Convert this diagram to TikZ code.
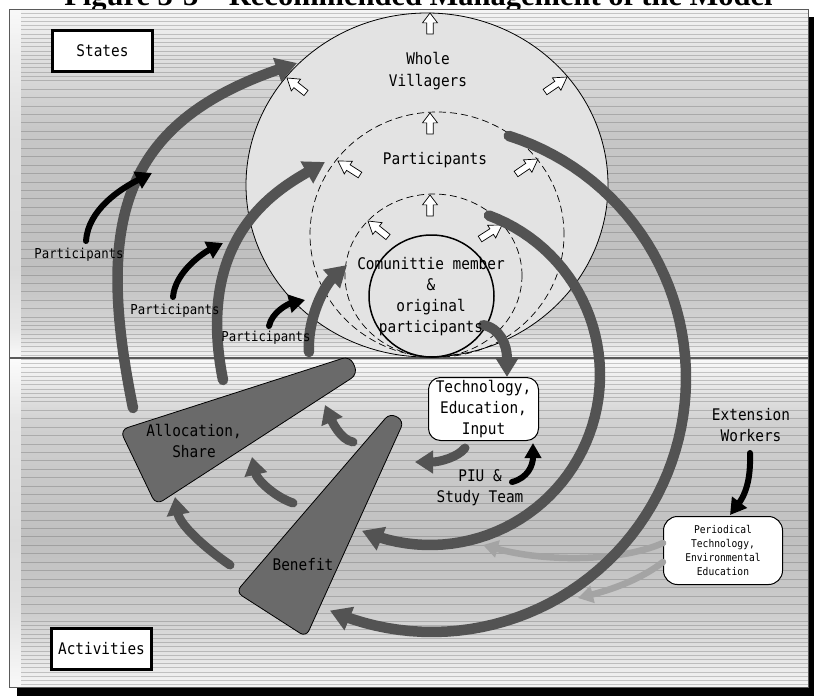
\documentclass[tikz,border=0pt]{standalone}
\usepackage{fontspec}
\setmainfont{Liberation Serif}
\newfontfamily\lblfont[FakeStretch=0.9]{DejaVu Sans Mono}
\usetikzlibrary{arrows.meta,calc}

\definecolor{flowgray}{HTML}{535353}
\definecolor{wedgegray}{HTML}{6A6A6A}
\definecolor{palegray}{HTML}{A4A4A4}
\definecolor{discgray}{HTML}{E3E3E3}
\definecolor{rulegray}{HTML}{5A5A5A}

\tikzset{
  lbl/.style={font=\lblfont\fontsize{16}{21}\selectfont, align=center, inner sep=0pt},
  smalllbl/.style={font=\lblfont\fontsize{13.7}{16}\selectfont, inner sep=0pt},
  tinylbl/.style={font=\lblfont\fontsize{10.7}{14}\selectfont, align=center},
  tagbox/.style={lbl, draw=black, line width=3pt, fill=white, minimum width=100pt, minimum height=41pt},
  roundbox/.style={lbl, draw=black, line width=1pt, fill=white, rounded corners=12pt, minimum width=110pt, minimum height=63pt},
  notebox/.style={tinylbl, draw=black, line width=1pt, fill=white, rounded corners=14pt, minimum width=119pt, minimum height=68pt, inner sep=0pt},
  bigflow/.style={draw=flowgray, line width=10.5pt, line cap=round, -{Triangle[length=21pt,width=24pt]}},
  smallflow/.style={draw=flowgray, line width=9pt, line cap=round, -{Triangle[length=18pt,width=22pt]}},
  inkflow/.style={draw=black, line width=6pt, line cap=round, -{Triangle[length=16pt,width=18pt]}},
  paleflow/.style={draw=palegray, line width=6.5pt, line cap=round, -{Triangle[length=15pt,width=17pt]}},
  wedge/.style={fill=wedgegray, draw=black, line width=0.8pt, rounded corners=8pt},
  disc/.style={fill=discgray, draw=black, line width=0.8pt},
  ring/.style={draw=black, line width=0.7pt, dash pattern=on 7pt off 4pt},
  blockarr/.style={fill=white, draw=black, line width=0.7pt, line join=miter},
  stripe/.style={draw=black!65, opacity=0.3, line width=0.9pt},
}

% outlined block arrow from tip #1 back to tail #2
\newcommand\blkarrow[2]{%
  \draw[blockarr] (#1)
    -- ($(#1)!0.47!(#2)!7.5pt!90:(#1)$)
    -- ($(#1)!0.47!(#2)!3.3pt!90:(#1)$)
    -- ($(#2)!3.3pt!90:(#1)$)
    -- ($(#2)!3.3pt!-90:(#1)$)
    -- ($(#1)!0.47!(#2)!3.3pt!-90:(#1)$)
    -- ($(#1)!0.47!(#2)!7.5pt!-90:(#1)$)
    -- cycle;}

\begin{document}
\begin{tikzpicture}[x=1pt,y=-1pt]
\useasboundingbox (0,0) rectangle (814,696);
\fill[white] (0,0) rectangle (814,696);

% title (runs off the top of the page)
\node[font=\bfseries\fontsize{30.5}{32}\selectfont, anchor=base, inner sep=0pt] (title) at (418.5,5.5)
  {Figure 3-3 – Recommended Management of the Model};

% drop shadow of the panel
\fill[black] (17,17) rectangle (820,700);

% panel background: graded grey bands
\shade[top color=black!4,  bottom color=black!13] (9,9)   rectangle (808,60.5);
\shade[top color=black!13, bottom color=black!22] (9,60)  rectangle (808,130.5);
\shade[top color=black!22, bottom color=black!25] (9,130) rectangle (808,270.5);
\shade[top color=black!25, bottom color=black!16] (9,270) rectangle (808,330.5);
\shade[top color=black!16, bottom color=black!4]  (9,330) rectangle (808,358);
\shade[top color=black!2,  bottom color=black!18] (9,358) rectangle (808,420.5);
\shade[top color=black!18, bottom color=black!25] (9,420) rectangle (808,540.5);
\shade[top color=black!25, bottom color=black!20] (9,540) rectangle (808,610.5);
\shade[top color=black!20, bottom color=black!4]  (9,610) rectangle (808,687);

% horizontal hatching
\foreach \k in {0,...,79} {\draw[stripe] (21,{13+8.45*\k}) -- (808,{13+8.45*\k});}
\foreach \k in {0,...,7} {\draw[stripe] (21,{17.2+8.45*\k}) -- (808,{17.2+8.45*\k});}
\foreach \k in {36,...,45} {\draw[stripe] (21,{17.2+8.45*\k}) -- (808,{17.2+8.45*\k});}
\foreach \k in {72,...,79} {\draw[stripe] (21,{17.2+8.45*\k}) -- (808,{17.2+8.45*\k});}
\fill[white, opacity=0.45] (9,9) rectangle (21,687);

% panel outline and the states / activities divider
\draw[rulegray, line width=1pt] (9,9) rectangle (808,687);
\draw[rulegray, line width=1.8pt] (9,358) -- (808,358);

% nested circles
\draw[disc] (427,185) ellipse [x radius=181pt, y radius=172pt];
\draw[ring] (437,234.5) ellipse [x radius=127pt, y radius=122.5pt];
\draw[ring] (433.5,275.5) ellipse [x radius=88.5pt, y radius=81.5pt];
\draw[black, line width=1.5pt] (431.5,296) ellipse [x radius=62.5pt, y radius=61pt];

% outward growth arrows
\coordinate (g1t) at (430,13);  \coordinate (g1s) at (430,34);
\coordinate (g2t) at (287,78);  \coordinate (g2s) at (306,93);
\coordinate (g3t) at (567,77);  \coordinate (g3s) at (545,92);
\coordinate (g4t) at (430,113); \coordinate (g4s) at (430,134);
\coordinate (g5t) at (338,161); \coordinate (g5s) at (360,175);
\coordinate (g6t) at (538,159); \coordinate (g6s) at (516,174);
\coordinate (g7t) at (430,195); \coordinate (g7s) at (430,216);
\coordinate (g8t) at (368,221); \coordinate (g8s) at (388,237);
\coordinate (g9t) at (502,225); \coordinate (g9s) at (480,239);
\blkarrow{g1t}{g1s}\blkarrow{g2t}{g2s}\blkarrow{g3t}{g3s}
\blkarrow{g4t}{g4s}\blkarrow{g5t}{g5s}\blkarrow{g6t}{g6s}
\blkarrow{g7t}{g7s}\blkarrow{g8t}{g8s}\blkarrow{g9t}{g9s}

% wedges
\draw[wedge] (120,430) -- (156,505) -- (358,374) -- (350,356) -- cycle;
\draw[wedge, rounded corners=7pt] (390,413) -- (404,421) -- (306,637) -- (236,592) -- cycle;

% boxes
\node[tagbox] (states) at (102.5,51) {States};
\node[tagbox] (activities) at (101.5,648.5) {Activities};
\node[roundbox] (tech) at (483.5,409) {Technology,\\Education,\\Input};
\node[notebox] (periodic) at (723,550.5) {Periodical\\Technology,\\Environmental\\Education};

% pale arrows from the periodical education box
\coordinate (l1s) at (663,543); \coordinate (l1e) at (483,545);
\coordinate (l2s) at (663,562); \coordinate (l2e) at (578,598);
\draw[paleflow] (l1s) .. controls (620,562) and (545,562) .. (l1e);
\draw[paleflow] (l2s) .. controls (640,580) and (610,590) .. (l2e);

% large feedback loops from the circles back to the wedges
\draw[bigflow] plot[domain=72.4:-113.7, samples=70] ({432+254*cos(\x)}, {378-254*sin(\x)});
\draw[bigflow] plot[domain=69.7:-113.6, samples=60] ({430+170*cos(\x)}, {375-170*sin(\x)});

% rising loops from activities into the circles
\coordinate (a1s) at (133,408); \coordinate (a1e) at (297,63);
\coordinate (a2s) at (223,380); \coordinate (a2e) at (325,162);
\coordinate (a3s) at (309,352); \coordinate (a3e) at (347,265);
\draw[bigflow] (a1s) .. controls (95,222) and (121,124) .. (a1e);
\draw[bigflow] (a2s) .. controls (195,240) and (273,192) .. (a2e);
\draw[bigflow] (a3s) .. controls (307,318) and (325,285) .. (a3e);

% participants joining
\coordinate (b1s) at (86,241);  \coordinate (b1e) at (152,173);
\coordinate (b2s) at (173,297); \coordinate (b2e) at (223,243);
\coordinate (b3s) at (269,326); \coordinate (b3e) at (305,300);
\draw[inkflow] (b1s) .. controls (88,210) and (120,189) .. (b1e);
\draw[inkflow] (b2s) .. controls (175,272) and (203,253) .. (b2e);
\draw[inkflow] (b3s) .. controls (272,312) and (288,304) .. (b3e);

% small arrows climbing the wedges
\coordinate (s1s) at (353,442); \coordinate (s1e) at (325,405);
\coordinate (s2s) at (293,503); \coordinate (s2e) at (252,457);
\coordinate (s3s) at (230,565); \coordinate (s3e) at (175,497);
\draw[smallflow] (s1s) .. controls (340,440) and (331,419) .. (s1e);
\draw[smallflow] (s2s) .. controls (275,497) and (257,480) .. (s2e);
\draw[smallflow] (s3s) .. controls (205,548) and (180,525) .. (s3e);

% core circle to technology box, and on towards the wedges
\coordinate (t1s) at (483,325); \coordinate (t1e) at (507,377);
\draw[smallflow, line width=10pt, -{Triangle[length=20pt,width=23pt]}] (t1s) .. controls (500,328) and (507,345) .. (t1e);
\coordinate (t2s) at (465,448); \coordinate (t2e) at (415,462);
\draw[smallflow] (t2s) .. controls (458,457) and (440,462) .. (t2e);

% support arrows
\coordinate (q1s) at (512,482); \coordinate (q1e) at (533,443);
\draw[inkflow, -{Triangle[length=15pt,width=16pt]}] (q1s) .. controls (528,478) and (533,465) .. (q1e);
\coordinate (q2s) at (750,453); \coordinate (q2e) at (730,515);
\draw[inkflow] (q2s) .. controls (751,480) and (745,495) .. (q2e);

% labels
\node[lbl, font=\lblfont\fontsize{16}{22}\selectfont] (whole) at (428,71) {Whole\\Villagers};
\node[lbl] (partring) at (435,160) {Participants};
\node[lbl] (core) at (431,297) {Comunittie member\\\&\\original\\participants};
\node[lbl] (piu) at (480,488) {PIU \&\\Study Team};
\node[lbl] (ext) at (751,425.5) {Extension\\Workers};
\node[lbl] (alloc) at (194,441) {Allocation,\\Share};
\node[lbl] (benefit) at (303,565) {Benefit};
\node[smalllbl] (p1) at (79,255) {Participants};
\node[smalllbl] (p2) at (175,311) {Participants};
\node[smalllbl] (p3) at (266,338) {Participants};
\end{tikzpicture}
\end{document}
